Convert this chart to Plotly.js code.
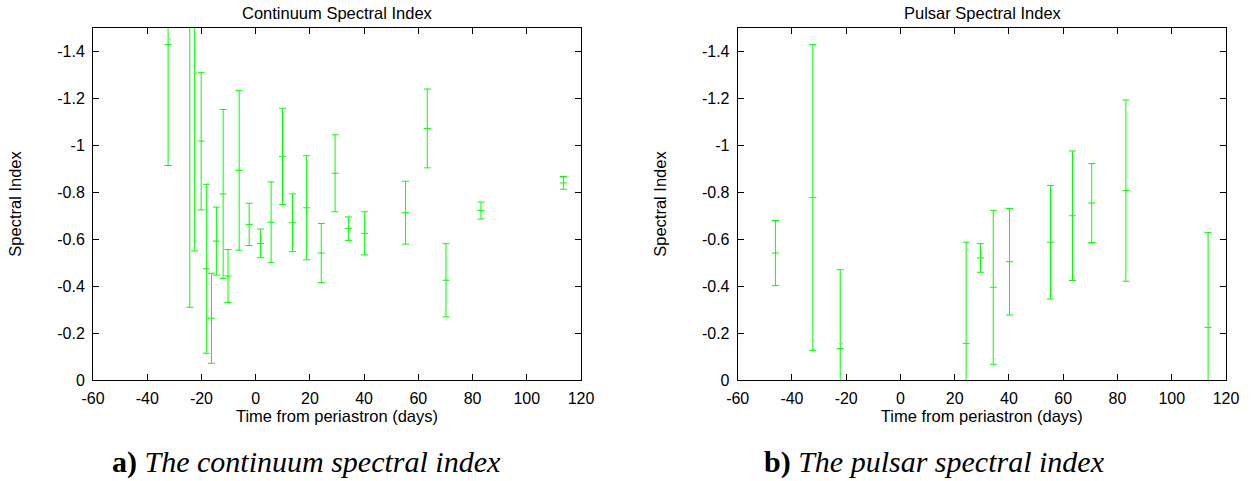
<!DOCTYPE html>
<html>
<head>
<meta charset="utf-8">
<script src="https://cdn.plot.ly/plotly-3.0.1.min.js"></script>
<style>
html,body{margin:0;padding:0;background:#fff;}
#chart{width:1252px;height:481px;}
</style>
</head>
<body>
<div id="chart"></div>
<script>
// ---- Data ----
var contDays  = [-32.3, -24.3, -22.5, -20.1, -18.2, -16.3, -14.5, -12.0, -10.2, -6.1, -2.4, 1.8, 5.7, 9.9, 13.6, 18.8, 24.2, 29.3, 34.2, 40.2, 55.3, 63.3, 70.2, 83.1, 113.5];
var contIndex = [-1.43, -1.6, -1.6, -1.018, -0.474, -0.263, -0.592, -0.793, -0.443, -0.893, -0.663, -0.582, -0.672, -0.953, -0.670, -0.734, -0.541, -0.881, -0.645, -0.625, -0.713, -1.072, -0.425, -0.722, -0.840];
var contErr   = [0.516, 1.29, 1.05, 0.293, 0.36, 0.192, 0.145, 0.36, 0.113, 0.34, 0.09, 0.061, 0.172, 0.205, 0.123, 0.222, 0.126, 0.164, 0.05, 0.092, 0.134, 0.168, 0.156, 0.036, 0.027];

var psrDays  = [-46.1, -32.3, -22.2, 24.2, 29.5, 34.2, 40.2, 55.3, 63.4, 70.5, 83.1, 113.4];
var psrIndex = [-0.541, -0.778, -0.134, -0.156, -0.520, -0.395, -0.504, -0.587, -0.700, -0.754, -0.807, -0.224];
var psrErr   = [0.139, 0.652, 0.336, 0.431, 0.061, 0.328, 0.227, 0.242, 0.276, 0.168, 0.386, 0.405];

var xTickVals = [-60, -40, -20, 0, 20, 40, 60, 80, 100, 120];
var xTickText = ["-60", "-40", "-20", "0", "20", "40", "60", "80", "100", "120"];
var yTickVals = [0, -0.2, -0.4, -0.6, -0.8, -1, -1.2, -1.4];
var yTickText = ["0", "-0.2", "-0.4", "-0.6", "-0.8", "-1", "-1.2", "-1.4"];

var titles   = ["Continuum Spectral Index", "Pulsar Spectral Index"];
var captions = ["<b>a)</b> <i>The continuum spectral index</i>", "<b>b)</b> <i>The pulsar spectral index</i>"];
var xTitle = "Time from periastron (days)";
var yTitle = "Spectral Index";

// ---- Styling / layout ----
var GREEN = "#00ff00";
var SANS = "Liberation Sans, Arial, sans-serif";
var SERIF = "Liberation Serif, Times New Roman, serif";
var W = 1252, H = 481;
var M = {l: 93, r: 26, t: 28, b: 101};
var PW = W - M.l - M.r, PH = H - M.t - M.b;
function px(x){ return (x - M.l) / PW; }
function py(y){ return (H - M.b - y) / PH; }

function trace(xs, ys, es, xa, ya){
  return {
    type: "scatter", mode: "markers", x: xs, y: ys, xaxis: xa, yaxis: ya,
    cliponaxis: true, showlegend: false, hoverinfo: "skip",
    marker: {symbol: "line-ew", size: 5, color: GREEN, line: {color: GREEN, width: 1}},
    error_y: {type: "data", array: es, symmetric: true, color: GREEN, thickness: 1, width: 3.5}
  };
}

function xaxis(dom, anchor){
  return {
    domain: dom, anchor: anchor, range: [-60, 120],
    tickmode: "array", tickvals: xTickVals, ticktext: xTickText,
    ticks: "inside", ticklen: 6, tickwidth: 1, tickcolor: "#000",
    showline: true, linecolor: "#000", linewidth: 1, mirror: "ticks",
    showgrid: false, zeroline: false, ticklabelstandoff: 4,
    tickfont: {family: SANS, size: 16, color: "#000"},
    title: {text: xTitle, font: {family: SANS, size: 16.5, color: "#000"}, standoff: 2}
  };
}
function yaxis(anchor){
  return {
    domain: [0, 1], anchor: anchor, range: [0, -1.5],
    tickmode: "array", tickvals: yTickVals, ticktext: yTickText,
    ticks: "inside", ticklen: 6, tickwidth: 1, tickcolor: "#000",
    showline: true, linecolor: "#000", linewidth: 1, mirror: "ticks",
    showgrid: false, zeroline: false, ticklabelstandoff: 4,
    tickfont: {family: SANS, size: 16, color: "#000"},
    title: {text: yTitle, font: {family: SANS, size: 16.5, color: "#000"}, standoff: 31}
  };
}

var data = [
  trace(contDays, contIndex, contErr, "x", "y"),
  trace(psrDays, psrIndex, psrErr, "x2", "y2")
];

var layout = {
  width: W, height: H, margin: M,
  paper_bgcolor: "#fff", plot_bgcolor: "#fff",
  showlegend: false,
  xaxis: xaxis([0, px(581)], "y"),
  yaxis: yaxis("x"),
  xaxis2: xaxis([px(737.7), 1], "y2"),
  yaxis2: yaxis("x2"),
  annotations: [
    {xref: "paper", yref: "paper", x: px(337), y: py(12.5), xanchor: "center", yanchor: "middle",
     showarrow: false, text: titles[0], font: {family: SANS, size: 16.5, color: "#000"}},
    {xref: "paper", yref: "paper", x: px(983), y: py(12.5), xanchor: "center", yanchor: "middle",
     showarrow: false, text: titles[1], font: {family: SANS, size: 16.5, color: "#000"}},
    {xref: "paper", yref: "paper", x: px(306), y: py(462), xanchor: "center", yanchor: "middle",
     showarrow: false, text: captions[0], font: {family: SERIF, size: 30, color: "#000"}},
    {xref: "paper", yref: "paper", x: px(934), y: py(462), xanchor: "center", yanchor: "middle",
     showarrow: false, text: captions[1], font: {family: SERIF, size: 30, color: "#000"}}
  ]
};

Plotly.newPlot("chart", data, layout, {staticPlot: true, displayModeBar: false});
</script>
</body>
</html>
